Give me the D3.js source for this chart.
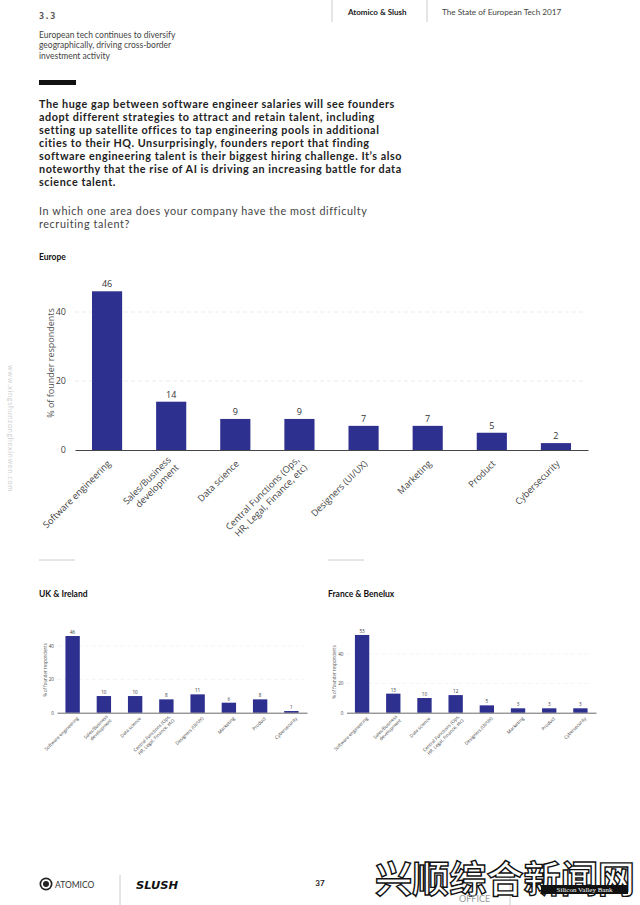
<!DOCTYPE html>
<html><head><meta charset="utf-8">
<script src="https://cdn.jsdelivr.net/npm/d3@7"></script>
<style>
html,body{margin:0;padding:0;background:#fff;}
svg{display:block;}
</style></head>
<body>
<svg id="chart" width="640" height="905"></svg>
<script>
// ---------- DATA ----------
const categories = [
  "Software engineering",
  "Sales/Business\ndevelopment",
  "Data science",
  "Central Functions (Ops,\nHR, Legal, Finance, etc)",
  "Designers (UI/UX)",
  "Marketing",
  "Product",
  "Cybersecurity"
];
const europeValues = [46, 14, 9, 9, 7, 7, 5, 2];
const ukValues     = [46, 10, 10, 8, 11, 6, 8, 1];
const franceValues = [53, 13, 10, 12, 5, 3, 3, 3];
const yTickValues  = [0, 20, 40];
const yAxisTitle   = "% of founder respondents";

const subtitleLines = [
  "European tech continues to diversify",
  "geographically, driving cross-border",
  "investment activity"
];
const bodyLines = [
  "The huge gap between software engineer salaries will see founders",
  "adopt different strategies to attract and retain talent, including",
  "setting up satellite offices to tap engineering pools in additional",
  "cities to their HQ. Unsurprisingly, founders report that finding",
  "software engineering talent is their biggest hiring challenge. It\u2019s also",
  "noteworthy that the rise of AI is driving an increasing battle for data",
  "science talent."
];
const questionLines = [
  "In which one area does your company have the most difficulty",
  "recruiting talent?"
];

// ---------- SETUP ----------
const svg = d3.select("#chart");
svg.append("rect").attr("width", 640).attr("height", 905).attr("fill", "#fff");
const SANS = "Lato, 'Open Sans', sans-serif";
const CHART_FONT = "'Open Sans', 'Noto Sans', sans-serif";
const BAR = "#2e3090";

// ---------- HEADER ----------
svg.append("text").attr("x", 39).attr("y", 19).text("3.3")
  .attr("font-family", "'DejaVu Sans Mono', monospace").attr("font-size", 8.5)
  .attr("font-weight", "bold").attr("fill", "#555").attr("letter-spacing", 0.5);
svg.append("line").attr("x1", 332).attr("x2", 332).attr("y1", 0).attr("y2", 22).attr("stroke", "#ccc");
svg.append("line").attr("x1", 427).attr("x2", 427).attr("y1", 0).attr("y2", 22).attr("stroke", "#ccc");
svg.append("text").attr("x", 348).attr("y", 15).text("Atomico & Slush")
  .attr("font-family", SANS).attr("font-size", 8).attr("font-weight", "bold").attr("fill", "#222");
svg.append("text").attr("x", 442).attr("y", 15).text("The State of European Tech 2017")
  .attr("font-family", SANS).attr("font-size", 8.2).attr("fill", "#444");

svg.append("g").selectAll("text").data(subtitleLines).join("text")
  .attr("x", 39).attr("y", (d, i) => 38 + i * 10.3).text(d => d)
  .attr("font-family", SANS).attr("font-size", 8.5).attr("fill", "#444");

svg.append("rect").attr("x", 39).attr("y", 80).attr("width", 37).attr("height", 5).attr("fill", "#111");

svg.append("g").selectAll("text").data(bodyLines).join("text")
  .attr("x", 39).attr("y", (d, i) => 108 + i * 13).text(d => d)
  .attr("font-family", SANS).attr("font-size", 10.8).attr("font-weight", "bold")
  .attr("letter-spacing", 0.55).attr("fill", "#222");

svg.append("g").selectAll("text").data(questionLines).join("text")
  .attr("x", 39).attr("y", (d, i) => 215 + i * 13).text(d => d)
  .attr("font-family", SANS).attr("font-size", 10.8).attr("letter-spacing", 0.6).attr("fill", "#444");

// ---------- CHART FUNCTION ----------
function drawBarChart(o) {
  const g = svg.append("g");
  g.append("text").attr("x", o.titleX).attr("y", o.titleY).text(o.title)
    .attr("font-family", SANS).attr("font-size", 8.5).attr("font-weight", "bold").attr("fill", "#111");

  const x = d3.scaleBand().domain(categories).range([o.x0, o.x1])
    .paddingInner(o.pad).paddingOuter(o.pad / 2);
  const y = d3.scaleLinear().domain([0, o.yMax]).range([o.base, o.base - o.yMax * o.ppu]);

  g.selectAll(".grid").data(yTickValues.filter(d => d > 0)).join("line")
    .attr("x1", o.x0).attr("x2", o.x1 - 3).attr("y1", d => y(d)).attr("y2", d => y(d))
    .attr("stroke", "#ececec").attr("stroke-dasharray", "4,3").attr("stroke-width", o.gridW);

  const ya = g.append("g").attr("transform", `translate(${o.x0},0)`)
    .call(d3.axisLeft(y).tickValues(yTickValues).tickSize(0).tickPadding(o.tickPad));
  ya.select(".domain").remove();
  ya.selectAll("text").attr("font-size", o.fs).attr("font-family", CHART_FONT).attr("fill", "#444");

  g.append("text")
    .attr("transform", `translate(${o.ylx},${o.yly}) rotate(-90)`)
    .attr("text-anchor", "middle").text(yAxisTitle)
    .attr("font-family", CHART_FONT).attr("font-size", o.yfs).attr("fill", "#555");

  g.selectAll(".bar").data(o.values).join("rect")
    .attr("x", (d, i) => x(categories[i])).attr("width", x.bandwidth())
    .attr("y", d => y(d)).attr("height", d => y(0) - y(d)).attr("fill", BAR);

  g.selectAll(".val").data(o.values).join("text")
    .attr("x", (d, i) => x(categories[i]) + x.bandwidth() / 2)
    .attr("y", d => y(d) - o.valGap).attr("text-anchor", "middle").text(d => d)
    .attr("font-family", CHART_FONT).attr("font-size", o.fs).attr("fill", "#333");

  const xa = g.append("g").attr("transform", `translate(0,${o.base})`)
    .call(d3.axisBottom(x).tickSize(0).tickSizeOuter(0).tickFormat(""));
  xa.select(".domain").attr("stroke", "#444").attr("stroke-width", o.axisW);

  categories.forEach(c => {
    const lines = c.split("\n");
    const t = g.append("text")
      .attr("transform", `translate(${x(c) + x.bandwidth() / 2 + o.ldx},${o.base + o.ldy}) rotate(-45)`)
      .attr("text-anchor", "end").attr("font-family", CHART_FONT)
      .attr("font-size", o.lfs).attr("fill", "#444");
    lines.forEach((l, i) => {
      t.append("tspan").attr("x", 0)
        .attr("dy", i === 0 ? (0.35 - (lines.length - 1) * 0.6) + "em" : "1.2em")
        .text(l);
    });
  });
}

drawBarChart({
  title: "Europe", titleX: 39, titleY: 260, values: europeValues,
  x0: 75, x1: 588, base: 450, ppu: 3.45, yMax: 50, pad: 0.53,
  fs: 9, yfs: 9, lfs: 9.2, tickPad: 9, ylx: 54, yly: 363, valGap: 4,
  ldx: 2, ldy: 12, gridW: 1, axisW: 1.2
});
drawBarChart({
  title: "UK & Ireland", titleX: 39, titleY: 597, values: ukValues,
  x0: 57, x1: 307, base: 712.7, ppu: 1.667, yMax: 50, pad: 0.54,
  fs: 4.6, yfs: 4.4, lfs: 4.6, tickPad: 3, ylx: 46.5, yly: 670, valGap: 2,
  ldx: 5, ldy: 5, gridW: 0.6, axisW: 0.8
});
drawBarChart({
  title: "France & Benelux", titleX: 328, titleY: 597, values: franceValues,
  x0: 346.5, x1: 596, base: 712.7, ppu: 1.467, yMax: 60, pad: 0.54,
  fs: 4.6, yfs: 4.4, lfs: 4.6, tickPad: 3, ylx: 335.5, yly: 672, valGap: 2,
  ldx: 5, ldy: 5, gridW: 0.6, axisW: 0.8
});

// separators
svg.append("line").attr("x1", 39).attr("x2", 75).attr("y1", 560).attr("y2", 560).attr("stroke", "#ccc");
svg.append("line").attr("x1", 328).attr("x2", 364).attr("y1", 560).attr("y2", 560).attr("stroke", "#ccc");

// left faint vertical watermark
svg.append("text").attr("transform", "translate(8,365) rotate(90)")
  .text("www.xingshunzonghexinwen.com").attr("font-family", SANS)
  .attr("font-size", 7.2).attr("letter-spacing", 0.7).attr("fill", "#cfcfcf");

// ---------- FOOTER ----------
const f = svg.append("g");
f.append("circle").attr("cx", 46).attr("cy", 884).attr("r", 6.5).attr("fill", "#222");
f.append("circle").attr("cx", 46).attr("cy", 884).attr("r", 4.8).attr("fill", "#fff");
f.append("circle").attr("cx", 46).attr("cy", 884).attr("r", 3).attr("fill", "#222");
f.append("text").attr("x", 55).attr("y", 887.5).text("ATOMICO")
  .attr("font-family", SANS).attr("font-size", 8.5).attr("fill", "#333");
f.append("line").attr("x1", 120).attr("x2", 120).attr("y1", 875).attr("y2", 905).attr("stroke", "#ccc");
f.append("text").attr("x", 136).attr("y", 889).text("SLUSH")
  .attr("font-family", "'DejaVu Sans', sans-serif").attr("font-size", 11)
  .attr("font-weight", "bold").attr("font-style", "italic").attr("fill", "#111")
  .attr("textLength", 42).attr("lengthAdjust", "spacingAndGlyphs");
f.append("text").attr("x", 320).attr("y", 886).attr("text-anchor", "middle").text("37")
  .attr("font-family", SANS).attr("font-size", 8).attr("font-weight", "bold").attr("fill", "#222");
f.append("line").attr("x1", 510).attr("x2", 510).attr("y1", 875).attr("y2", 905).attr("stroke", "#ccc");
f.append("text").attr("x", 375).attr("y", 893).text("兴顺综合新闻网")
  .attr("font-family", "'Noto Sans CJK SC', sans-serif").attr("font-size", 37).attr("font-weight", "bold")
  .attr("fill", "#fff").attr("stroke", "#111").attr("stroke-width", 1.4)
  .attr("textLength", 260).attr("lengthAdjust", "spacingAndGlyphs");
f.append("text").attr("x", 459).attr("y", 902).text("OFFICE")
  .attr("font-family", SANS).attr("font-size", 9).attr("fill", "#999");
f.append("rect").attr("x", 541).attr("y", 885).attr("width", 87).attr("height", 9).attr("fill", "#111");
f.append("text").attr("x", 584.5).attr("y", 892).attr("text-anchor", "middle").text("Silicon Valley Bank")
  .attr("font-family", "'Liberation Serif', serif").attr("font-size", 7).attr("fill", "#fff");
</script>
</body></html>
